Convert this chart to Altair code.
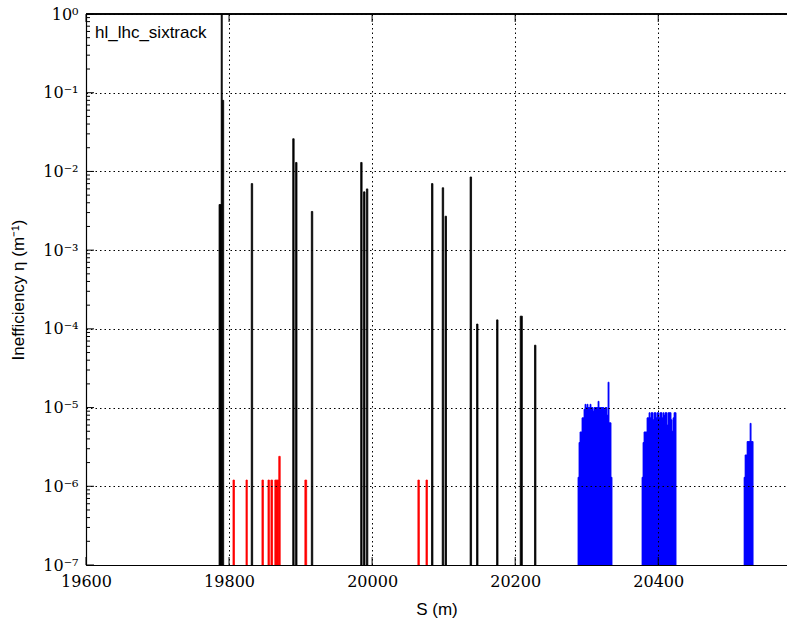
import altair as alt
import pandas as pd

# ---- data ----
# collimator losses (black): bin start, bin end (m), inefficiency (1/m)
black_s0 = [19786.0, 19789.0, 19790.5, 19831.0, 19889.0, 19893.0, 19915.0, 19984.0, 19988.0, 19992.0,
            20083.0, 20098.0, 20102.0, 20137.0, 20146.0, 20174.0, 20207.0, 20227.0]
black_s1 = [19789.0, 19790.5, 19792.5, 19833.0, 19891.0, 19895.0, 19917.0, 19986.0, 19990.0, 19994.0,
            20085.0, 20100.0, 20104.0, 20139.0, 20148.0, 20176.0, 20210.0, 20229.0]
black_eta = [3.8e-3, 1.0, 8.0e-2, 7.0e-3, 2.6e-2, 1.3e-2, 3.1e-3, 1.3e-2, 5.5e-3, 6.0e-3,
             7.0e-3, 6.2e-3, 2.7e-3, 8.5e-3, 1.15e-4, 1.3e-4, 1.45e-4, 6.2e-5]

# warm losses (red)
red_s0 = [19805.5, 19823.7, 19846.0, 19854.4, 19858.5, 19864.0, 19869.5, 19906.0, 20064.0, 20075.3]
red_s1 = [19807.5, 19825.5, 19848.0, 19856.4, 19860.8, 19869.5, 19871.5, 19908.5, 20066.0, 20077.3]
red_eta = [1.2e-6, 1.2e-6, 1.2e-6, 1.2e-6, 1.2e-6, 1.2e-6, 2.4e-6, 1.2e-6, 1.2e-6, 1.2e-6]

# cold losses (blue): three clusters of contiguous bins
blue_bin = 1.4
blue_start_1 = 20287.8
blue_eta_1 = [1.3e-6, 3.6e-6, 4.9e-6, 4.9e-6, 7.4e-6, 7.4e-6, 9.5e-6, 1.1e-5, 1.0e-5, 1.1e-5,
              1.0e-5, 1.0e-5, 1.1e-5, 1.0e-5, 1.0e-5, 9.0e-6, 1.0e-5, 1.0e-5, 1.0e-5, 1.0e-5,
              1.2e-5, 1.0e-5, 1.0e-5, 1.0e-5, 1.0e-5, 1.0e-5, 9.5e-6, 1.0e-5, 1.0e-5, 8.0e-6,
              2.1e-5, 6.4e-6, 6.4e-6, 1.3e-6]
blue_start_2 = 20377.3
blue_eta_2 = [1.3e-6, 3.6e-6, 4.9e-6, 4.9e-6, 4.9e-6, 7.4e-6, 7.4e-6, 8.6e-6, 7.4e-6, 8.6e-6,
              8.6e-6, 7.0e-6, 8.6e-6, 8.6e-6, 7.4e-6, 8.6e-6, 8.6e-6, 7.4e-6, 8.6e-6, 8.6e-6,
              7.4e-6, 8.6e-6, 8.0e-6, 8.6e-6, 8.6e-6, 6.0e-6, 8.6e-6, 8.6e-6, 8.6e-6, 7.0e-6,
              5.0e-6, 7.4e-6, 8.6e-6, 8.6e-6]
blue_start_3 = 20520.0
blue_eta_3 = [1.3e-6, 2.5e-6, 2.5e-6, 3.7e-6, 3.7e-6, 3.7e-6, 6.3e-6, 3.7e-6, 3.7e-6]

x_ticks = [19600, 19800, 20000, 20200, 20400]
y_ticks = [1e-7, 1e-6, 1e-5, 1e-4, 1e-3, 1e-2, 1e-1, 1.0]
y_tick_labels = ["10⁻⁷", "10⁻⁶", "10⁻⁵", "10⁻⁴", "10⁻³", "10⁻²", "10⁻¹", "10⁰"]
y_minor = [m * 10.0 ** k for k in range(-7, 0) for m in range(2, 10)]
label_text = "hl_lhc_sixtrack"

# ---- tables ----
rows = []
for a, b, v in zip(black_s0, black_s1, black_eta):
    rows.append(dict(s0=a, s1=b, eta=v, base=1e-7, kind="coll"))
for a, b, v in zip(red_s0, red_s1, red_eta):
    rows.append(dict(s0=a, s1=b, eta=v, base=1e-7, kind="warm"))
for start, vals in [(blue_start_1, blue_eta_1), (blue_start_2, blue_eta_2), (blue_start_3, blue_eta_3)]:
    for i, v in enumerate(vals):
        rows.append(dict(s0=start + i * blue_bin, s1=start + (i + 1) * blue_bin, eta=v, base=1e-7, kind="cold"))
df = pd.DataFrame(rows)

W, H = 701, 551
x_scale = alt.Scale(domain=[19600, 20580], nice=False, zero=False)
y_scale = alt.Scale(type="log", domain=[1e-7, 1.0], nice=False)
col_scale = alt.Scale(domain=["coll", "warm", "cold"], range=["#000000", "#ff0000", "#0000ff"])

label_map = "{" + ",".join(f"'{i}':'{t}'" for i, t in enumerate(y_tick_labels)) + "}"
y_label_expr = f"{label_map}[''+(round(log(datum.value)/LN10)+7)]"

SERIF = "DejaVu Serif"
grid_style = dict(grid=True, gridColor="black", gridDash=[1.5, 3], gridWidth=1, gridOpacity=1,
                  ticks=False, domain=True, domainColor="black", domainWidth=1.2, zindex=1,
                  labelFlush=False, labelOverlap=False, labelBound=False,
                  labelFont=SERIF, labelFontSize=16, labelColor="black",
                  titleFont="Liberation Sans", titleFontSize=17, titleFontWeight="normal", titleColor="black")

x_axis = alt.Axis(title="S (m)", values=x_ticks, format="d", labelPadding=8, titlePadding=12, **grid_style)
y_axis = alt.Axis(title="Inefficiency η (m⁻¹)", values=y_ticks, labelExpr=y_label_expr,
                  labelPadding=8, titlePadding=15, **grid_style)

bars = alt.Chart(df).mark_bar(strokeWidth=0.8, clip=True).encode(
    x=alt.X("s0:Q", scale=x_scale, axis=x_axis),
    x2="s1:Q",
    y=alt.Y("eta:Q", scale=y_scale, axis=y_axis),
    y2="base:Q",
    color=alt.Color("kind:N", scale=col_scale, legend=None),
    stroke=alt.Stroke("kind:N", scale=col_scale, legend=None),
)

xt = pd.DataFrame({"xt": x_ticks})
yt = pd.DataFrame({"yt": y_ticks})
ym = pd.DataFrame({"ym": y_minor})

x_bottom_ticks = alt.Chart(xt).mark_rule(color="black", strokeWidth=1).encode(
    x=alt.X("xt:Q", scale=x_scale, axis=x_axis), y=alt.value(H), y2=alt.value(H - 8))
x_top_ticks = alt.Chart(xt).mark_rule(color="black", strokeWidth=1).encode(
    x=alt.X("xt:Q", scale=x_scale, axis=x_axis), y=alt.value(0), y2=alt.value(8))
y_major_ticks = alt.Chart(yt).mark_rule(color="black", strokeWidth=1).encode(
    y=alt.Y("yt:Q", scale=y_scale, axis=y_axis), x=alt.value(0), x2=alt.value(8))
y_minor_ticks = alt.Chart(ym).mark_rule(color="black", strokeWidth=1).encode(
    y=alt.Y("ym:Q", scale=y_scale, axis=y_axis), x=alt.value(0), x2=alt.value(4))
top_border = alt.Chart(xt).mark_rule(color="black", strokeWidth=1.2).encode(
    x=alt.value(0), x2=alt.value(W), y=alt.value(0))

label = alt.Chart(pd.DataFrame({"t": [label_text]})).mark_text(
    align="left", baseline="middle", font="Liberation Sans", fontSize=17, color="black").encode(
    text="t:N", x=alt.value(9), y=alt.value(19))

chart = alt.layer(bars, x_bottom_ticks, x_top_ticks, y_major_ticks, y_minor_ticks, top_border, label).properties(
    width=W, height=H,
    autosize=alt.AutoSizeParams(type="none"),
    padding={"left": 86, "top": 14, "right": 0, "bottom": 57},
    background="white",
).configure_view(stroke=None).configure_axis(
    labelFont=SERIF, labelFontSize=16, titleFont="Liberation Sans", titleFontSize=17,
)

chart.save("out.html", embed_options={"renderer": "svg", "actions": False})
